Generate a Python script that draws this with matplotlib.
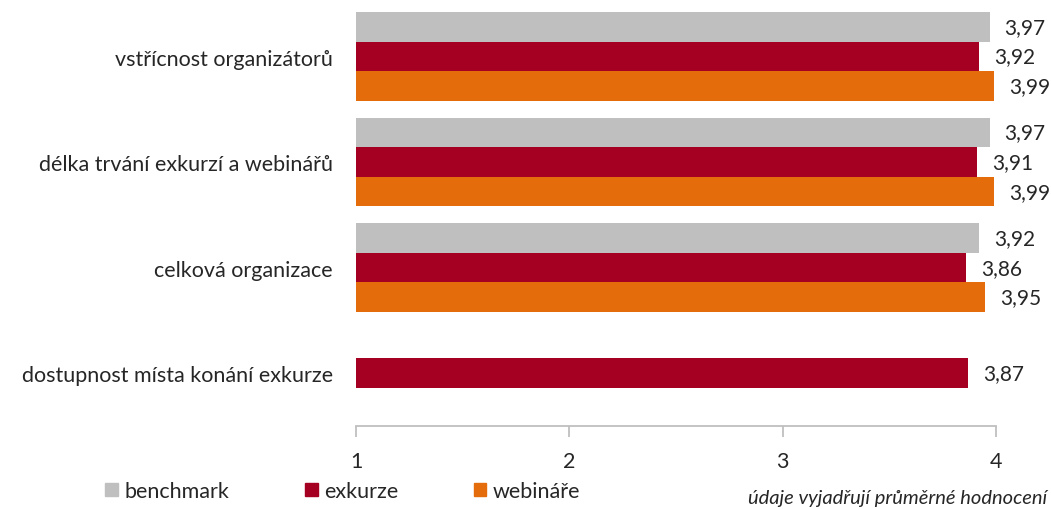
import numpy as np
import matplotlib
matplotlib.use("Agg")
import matplotlib.pyplot as plt
from matplotlib.patches import Patch

plt.rcParams['font.family'] = ['Lato', 'DejaVu Sans']

categories = ['vstřícnost organizátorů', 'délka trvání exkurzí a webinářů',
              'celková organizace', 'dostupnost místa konání exkurze']
series = ['benchmark', 'exkurze', 'webináře']
benchmark = [3.97, 3.97, 3.92, np.nan]
exkurze = [3.92, 3.91, 3.86, 3.87]
webinare = [3.99, 3.99, 3.95, np.nan]
colors = ['#bfbfbf', '#a50021', '#e46c0a']
xticks = [1, 2, 3, 4]

fig = plt.figure(figsize=(10.51, 5.10), dpi=100)
ax = fig.add_axes([356/1051, 1 - 427/510, (996 - 356)/1051, (427 - 4.75)/510])

y = np.arange(len(categories))
h = 0.28
for i, (vals, col) in enumerate(zip([benchmark, exkurze, webinare], colors)):
    off = (i - 1) * h
    for yi, v in zip(y, vals):
        if np.isnan(v):
            continue
        ax.barh(yi + off, v - 1, left=1, height=h, color=col)
        ax.text(v + 0.07, yi + off, f'{v:.2f}'.replace('.', ','), va='center', ha='left',
                fontsize=15, color='#262626')

ax.set_xlim(1, 4)
ax.set_ylim(len(categories) - 0.5, -0.5)
ax.set_yticks(y)
ax.set_yticklabels(categories, fontsize=15.5, color='#262626')
ax.tick_params(axis='y', length=0, pad=16.5)
ax.set_xticks(xticks)
ax.set_xticklabels([str(t) for t in xticks], fontsize=15.5, color='#262626')
ax.tick_params(axis='x', length=8, color='#bfbfbf', width=1.3, pad=10)
for s in ['top', 'right', 'left']:
    ax.spines[s].set_visible(False)
ax.spines['bottom'].set_color('#bfbfbf')
ax.spines['bottom'].set_linewidth(1.3)

handles = [Patch(color=c, label=s) for c, s in zip(colors, series)]
fig.legend(handles=handles, loc='center left', bbox_to_anchor=(105/1051, 1 - 492/510),
           ncol=3, frameon=False, fontsize=15.5, handlelength=0.6, handleheight=0.6,
           handletextpad=0.3, columnspacing=3.5, labelcolor='#262626',
           borderpad=0, borderaxespad=0)
fig.text(1047/1051, 1 - 499/510, 'údaje vyjadřují průměrné hodnocení', ha='right', va='center',
         fontsize=14.5, style='italic', color='#262626')

fig.savefig('out.png', dpi=100)
